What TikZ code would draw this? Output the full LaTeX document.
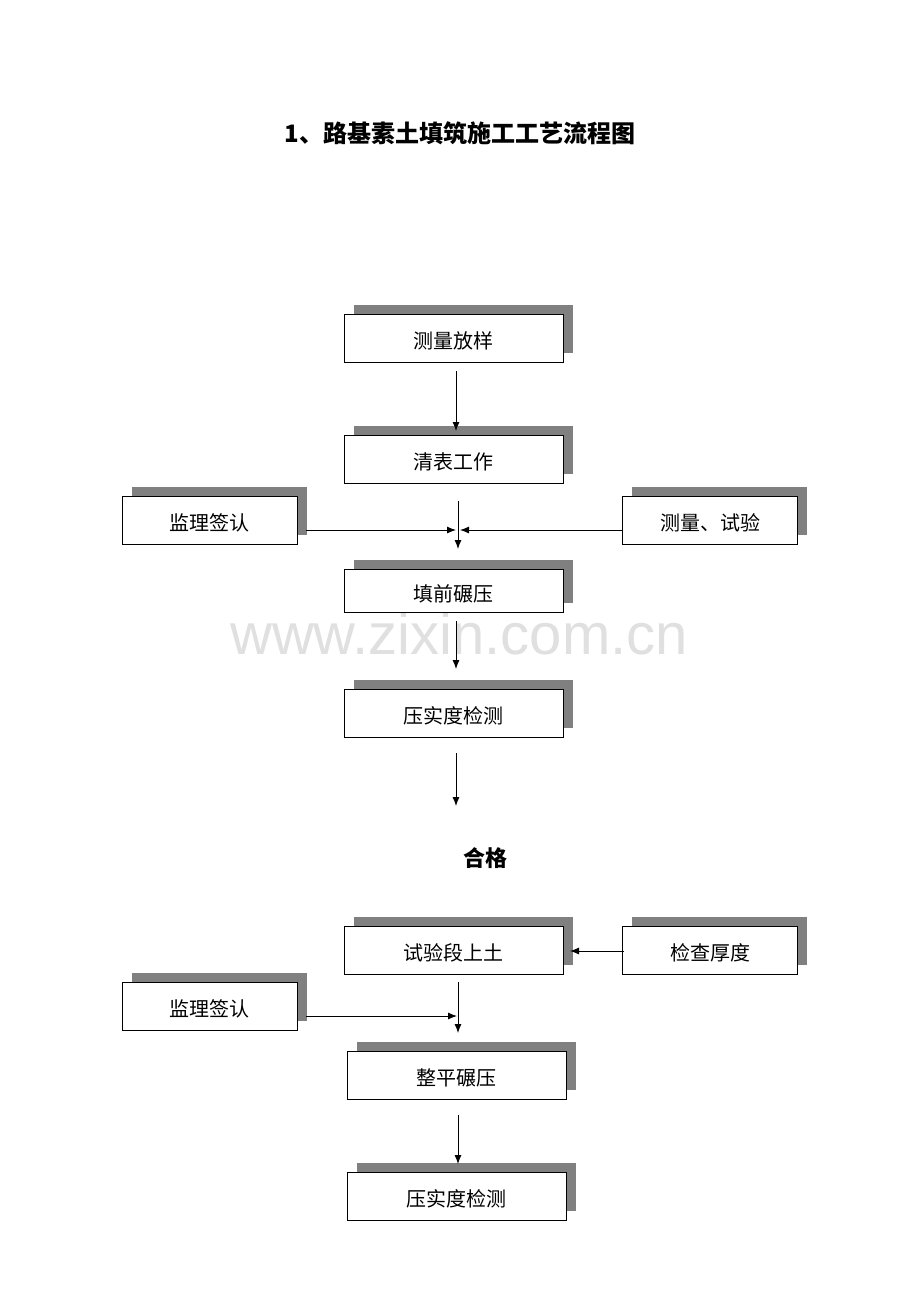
\documentclass[tikz,border=0pt]{standalone}
\usepackage{fontspec}
\setmainfont{Noto Sans CJK SC}
\newfontfamily\wmfont{Liberation Sans}
\usetikzlibrary{arrows.meta,shadows}
\definecolor{shadowgray}{HTML}{808080}
\definecolor{wmgray}{HTML}{E0E0E0}
\begin{document}
\begin{tikzpicture}[x=1pt,y=-1pt,
  box/.style={draw=black,line width=0.9pt,fill=white,minimum width=219pt,minimum height=48pt,inner sep=0pt,
    font=\fontsize{20}{24}\selectfont, text depth=0pt, text height=21pt,
    general shadow={fill=shadowgray,shadow xshift=9.5pt,shadow yshift=9pt}},
  sidebox/.style={box,minimum width=175pt},
  arr/.style={line width=0.9pt,-{Latex[length=9pt,width=7pt]}}]
\useasboundingbox (0,0) rectangle (920,1302);
\fill[white] (0,0) rectangle (920,1302);
% watermark
\node[text=wmgray,font=\wmfont\fontsize{58}{64}\selectfont] (wm) at (459,634) {www.zixin.com.cn};
% title
\node[font=\bfseries\fontsize{24}{28}\selectfont] (title) at (460,133) {1、路基素土填筑施工工艺流程图};
% boxes
\node[box] (b1) at (453.5,338) {测量放样};
\node[box] (b2) at (453.5,459) {清表工作};
\node[sidebox] (l1) at (209.5,520) {监理签认};
\node[sidebox] (r1) at (710,520) {测量、试验};
\node[box,minimum height=43pt] (b3) at (453.5,590.5) {填前碾压};
\node[box] (b4) at (453.5,713) {压实度检测};
\node[font=\bfseries\fontsize{22}{26}\selectfont] (ok) at (485,858) {合格};
\node[box] (b5) at (453.5,950) {试验段上土};
\node[sidebox] (r2) at (710,950) {检查厚度};
\node[sidebox] (l2) at (209.5,1006) {监理签认};
\node[box] (b6) at (456.5,1075) {整平碾压};
\node[box] (b7) at (456.5,1196) {压实度检测};
% connector end points
\coordinate (a1s) at (456,371);
\coordinate (a1e) at (456,431);
\coordinate (j1t) at (458,501);
\coordinate (j1) at (458,549);
\coordinate (l1s) at (306,530);
\coordinate (l1e) at (456,530);
\coordinate (r1s) at (622,530);
\coordinate (r1e) at (460,530);
\coordinate (a3s) at (456,621);
\coordinate (a3e) at (456,669);
\coordinate (a4s) at (456,753);
\coordinate (a4e) at (456,806);
\coordinate (r2s) at (624,951);
\coordinate (r2e) at (570,951);
\coordinate (j2t) at (458,982);
\coordinate (j2) at (458,1033);
\coordinate (l2s) at (306,1016);
\coordinate (l2e) at (457,1016);
\coordinate (a6s) at (458,1115);
\coordinate (a6e) at (458,1164);
% arrows
\draw[arr] (a1s) -- (a1e);
\draw[arr] (j1t) -- (j1);
\draw[arr] (l1s) -- (l1e);
\draw[arr] (r1s) -- (r1e);
\draw[arr] (a3s) -- (a3e);
\draw[arr] (a4s) -- (a4e);
\draw[arr] (r2s) -- (r2e);
\draw[arr] (j2t) -- (j2);
\draw[arr] (l2s) -- (l2e);
\draw[arr] (a6s) -- (a6e);
\end{tikzpicture}
\end{document}
